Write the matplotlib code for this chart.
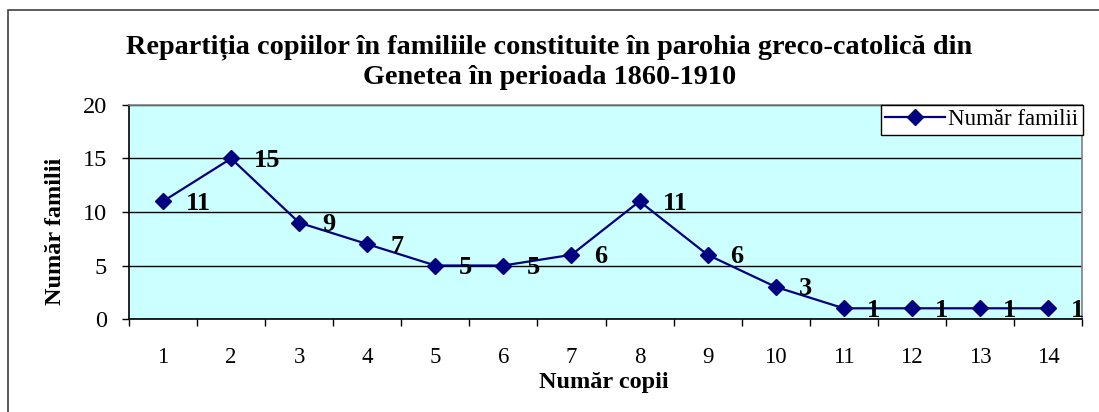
import matplotlib
matplotlib.use("Agg")
import matplotlib.pyplot as plt
from matplotlib.patches import Rectangle
import numpy as np

title = "Repartiția copiilor în familiile constituite în parohia greco-catolică din\nGenetea în perioada 1860-1910"
categories = ["1", "2", "3", "4", "5", "6", "7", "8", "9", "10", "11", "12", "13", "14"]
values = [11, 15, 9, 7, 5, 5, 6, 11, 6, 3, 1, 1, 1, 1]
series_name = "Număr familii"
xlabel = "Număr copii"
ylabel = "Număr familii"
yticks = [0, 5, 10, 15, 20]

plt.rcParams['font.family'] = ['Liberation Serif', 'DejaVu Serif']

W, H = 1099, 412
fig = plt.figure(figsize=(W / 100, H / 100), dpi=100)
fig.patch.set_facecolor("white")

# outer chart frame (right and bottom edges are outside the picture)
fig.patches.append(Rectangle((8 / W, -0.1), 1.2, (H - 10) / H + 0.1,
                             transform=fig.transFigure, fill=False,
                             edgecolor="#404040", linewidth=1.2))

l, r, t, b = 129, 1082, 105, 319
ax = fig.add_axes([l / W, (H - b) / H, (r - l) / W, (b - t) / H])
ax.set_facecolor("#CCFFFF")

x = np.arange(len(categories))
ax.plot(x, values, color="#000080", linewidth=1.6, marker="D", markersize=8.5,
        markerfacecolor="#000080", markeredgecolor="#000080", label=series_name,
        zorder=3)

for xi, v in zip(x, values):
    ax.annotate(str(v), (xi, v), xytext=(23, -2), textcoords="offset pixels",
                ha="left", va="center", fontsize=19, fontweight="bold",
                color="black", zorder=4)

ax.set_xlim(-0.5, len(categories) - 0.5)
ax.set_ylim(0, 20)
ax.set_yticks(yticks)
ax.set_yticklabels([str(v) for v in yticks])
ax.yaxis.grid(True, color="black", linewidth=1.0)
ax.set_axisbelow(True)

ax.set_xticks(np.arange(-0.5, len(categories), 1.0))
ax.set_xticklabels([])
ax.set_xticks(x, minor=True)
ax.set_xticklabels(categories, minor=True)
ax.tick_params(axis="x", which="major", length=5, width=1, direction="out")
ax.tick_params(axis="x", which="minor", length=0, pad=20.5, labelsize=16.5)
ax.tick_params(axis="y", length=5, width=1, direction="out", pad=11, labelsize=17.5)

for s in ["left", "bottom"]:
    ax.spines[s].set_color("black")
    ax.spines[s].set_linewidth(1.2)
for s in ["top", "right"]:
    ax.spines[s].set_color("#808080")
    ax.spines[s].set_linewidth(1.2)

ax.set_xlabel(xlabel, fontsize=17.5, fontweight="bold")
ax.xaxis.set_label_coords((604 - l) / (r - l), (b - 388) / (b - t))
ax.xaxis.label.set_va("baseline")
ax.set_ylabel(ylabel, fontsize=17.5, fontweight="bold")
ax.yaxis.set_label_coords((56 - l) / (r - l), (b - 231) / (b - t))
ax.yaxis.label.set_va("center")

fig.text(0.5, (H - 62) / H, title, ha="center", va="center", fontsize=20.3,
         fontweight="bold", linespacing=1.24)

leg = ax.legend(loc="upper right", bbox_to_anchor=(1.001, 1.002), fontsize=16.5,
                frameon=True, fancybox=False, edgecolor="black",
                framealpha=1, borderpad=0.2, handlelength=2.6,
                handletextpad=0.15, borderaxespad=0)
leg.get_frame().set_linewidth(1.0)

fig.savefig("out.png", dpi=100)
